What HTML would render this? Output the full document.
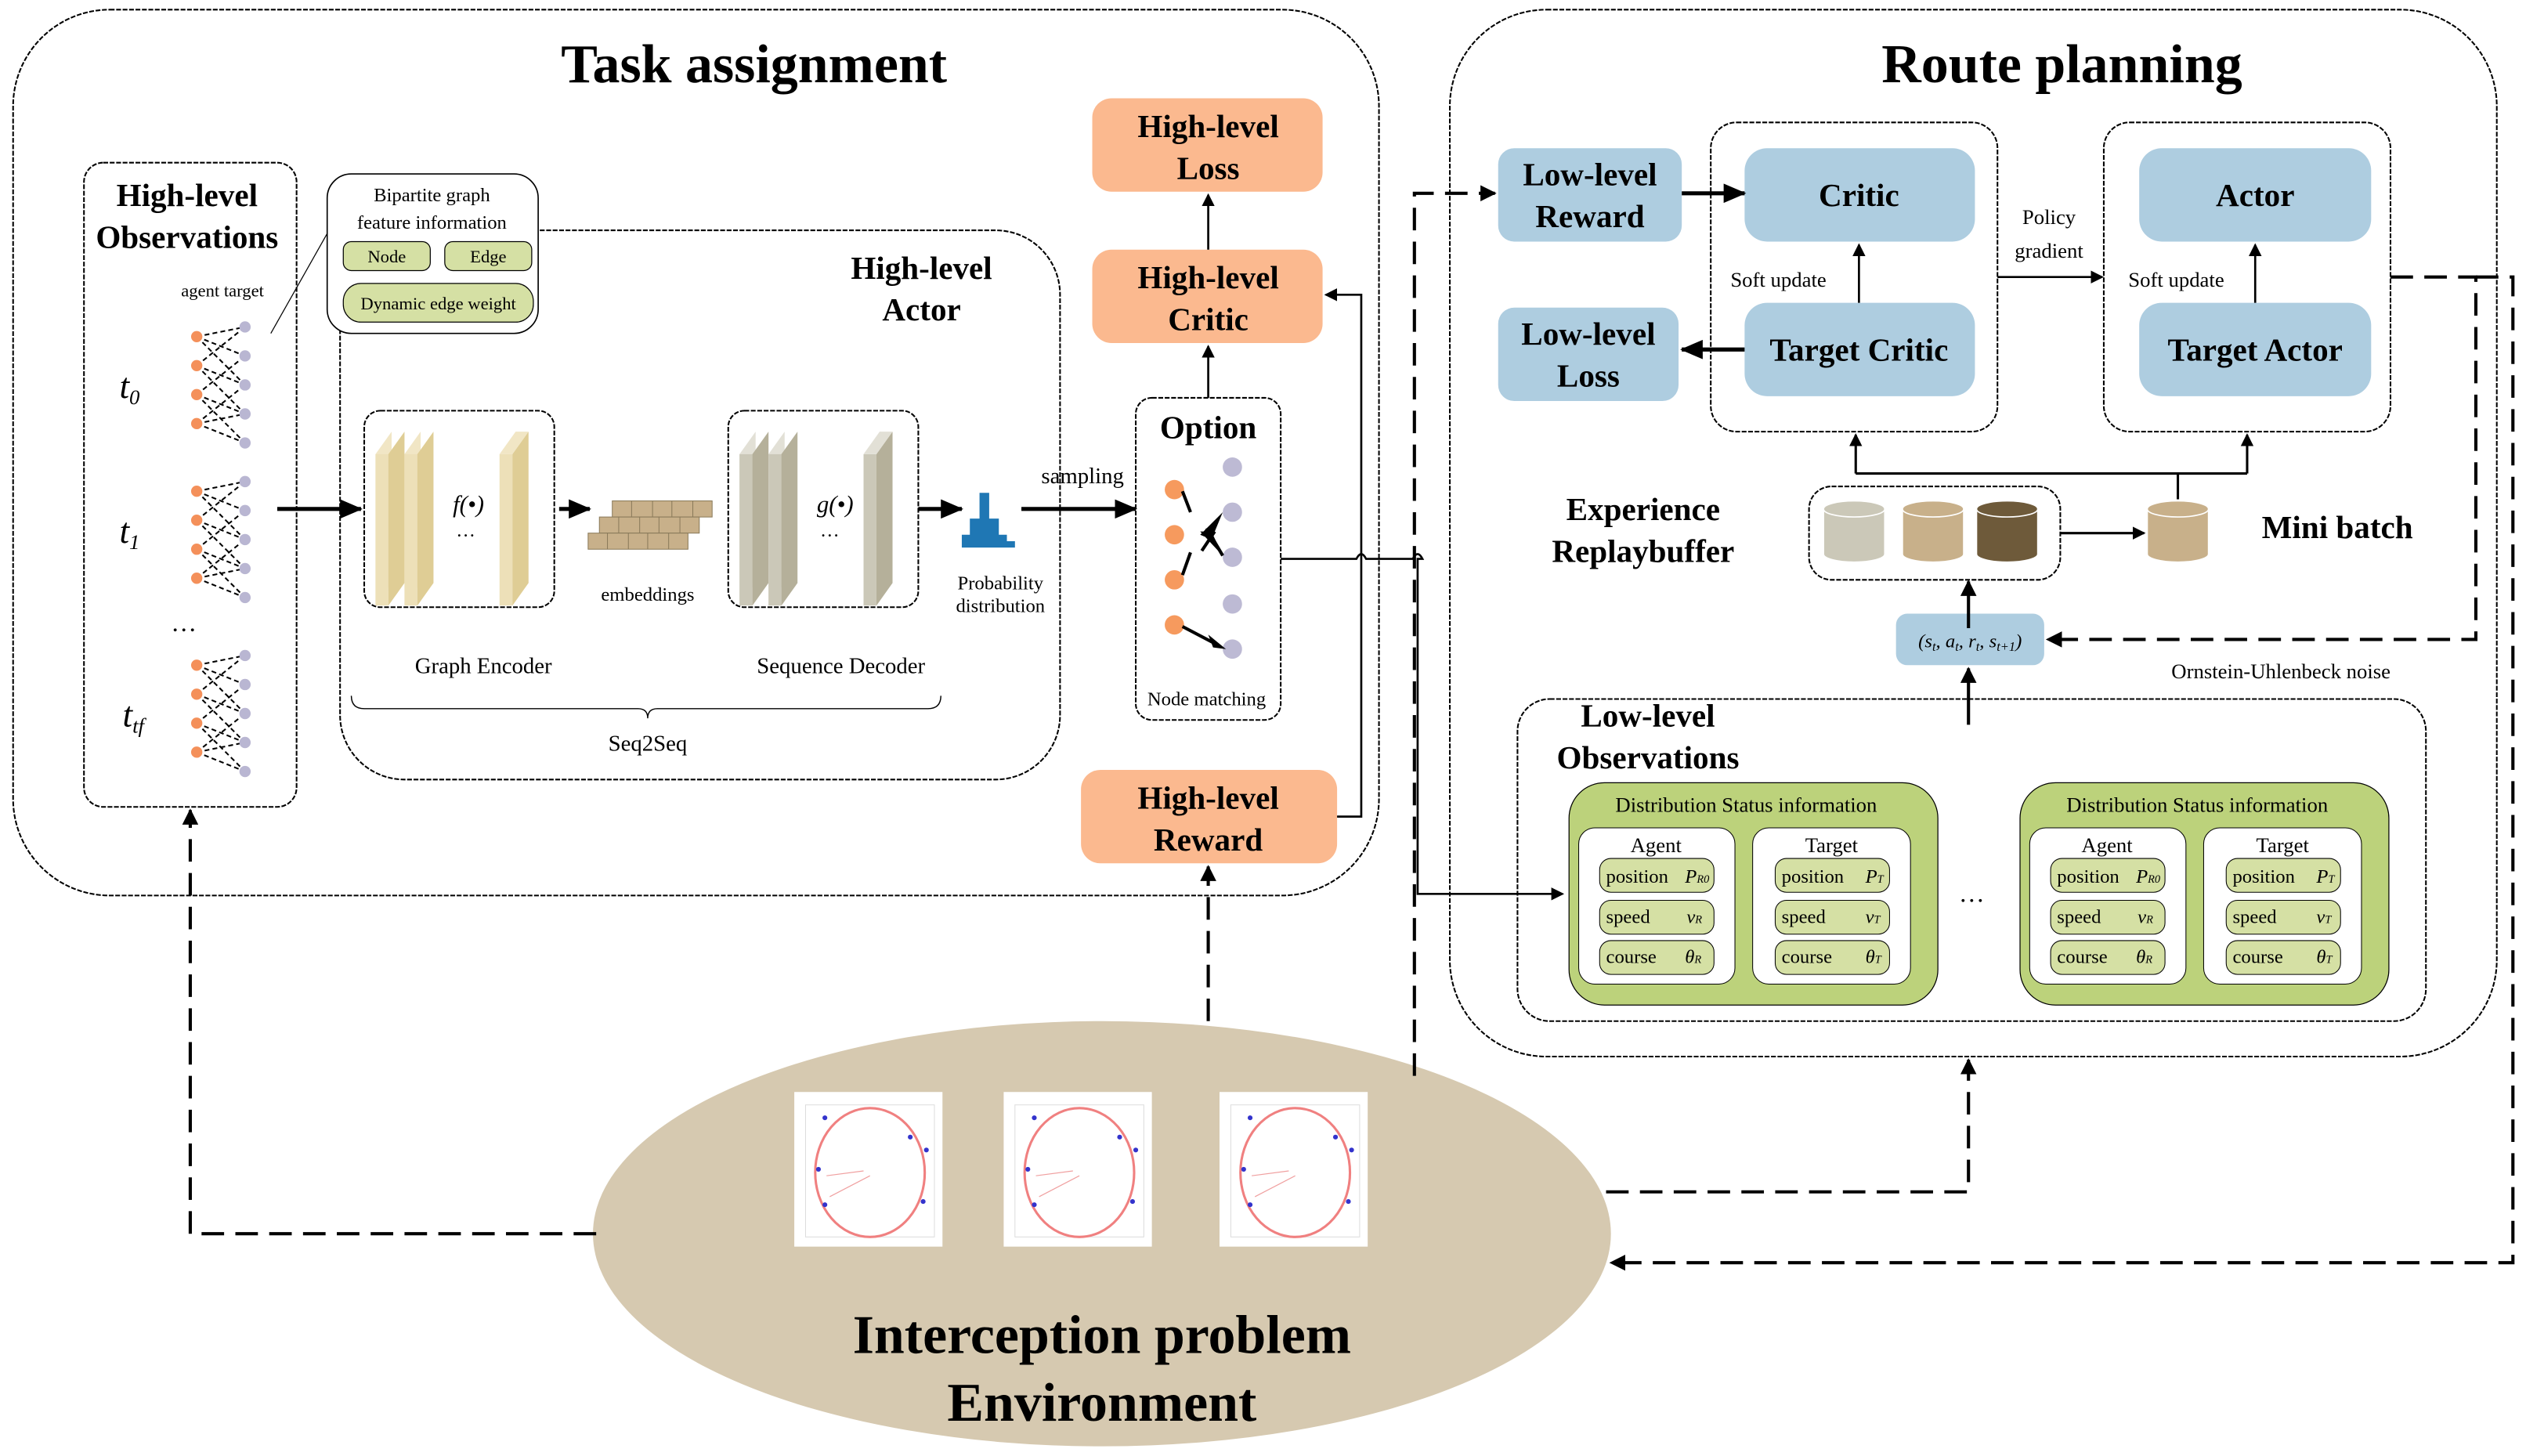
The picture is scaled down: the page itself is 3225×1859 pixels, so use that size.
<!DOCTYPE html>
<html><head><meta charset="utf-8"><style>html,body{margin:0;padding:0;background:#fff}svg{display:block}</style></head><body>
<svg width="3225" height="1859" viewBox="0 0 1568 904" xmlns="http://www.w3.org/2000/svg" font-family="Liberation Serif, serif">
<defs>
<marker id="a" markerWidth="8" markerHeight="8" refX="7" refY="4" orient="auto" markerUnits="userSpaceOnUse"><path d="M0,0 L8,4 L0,8 z" fill="#000"/></marker>
<marker id="b" markerWidth="14" markerHeight="12" refX="13" refY="6" orient="auto" markerUnits="userSpaceOnUse"><path d="M0,0 L14,6 L0,12 z" fill="#000"/></marker>
<marker id="c" markerWidth="10" markerHeight="10" refX="9" refY="5" orient="auto" markerUnits="userSpaceOnUse"><path d="M0,0 L10,5 L0,10 z" fill="#000"/></marker>
</defs>
<g fill="none" stroke="#000" stroke-width="1" stroke-dasharray="3,1">
<rect x="8" y="6" width="848" height="550" rx="60"/>
<rect x="900" y="6" width="650" height="650" rx="60"/>
<rect x="52" y="101" width="132" height="400" rx="12"/>
<rect x="211" y="143" width="447" height="341" rx="40"/>
<rect x="226" y="255" width="118" height="122" rx="10"/>
<rect x="452" y="255" width="118" height="122" rx="10"/>
<rect x="705" y="247" width="90" height="200" rx="10"/>
<rect x="1062" y="76" width="178" height="192" rx="16"/>
<rect x="1306" y="76" width="178" height="192" rx="16"/>
<rect x="1123" y="302" width="156" height="58" rx="14"/>
<rect x="942" y="434" width="564" height="200" rx="20"/>
</g>
<rect x="203" y="108" width="131" height="99" rx="15" fill="#fff" stroke="#000" stroke-width="0.8"/>
<line x1="203" y1="145" x2="168" y2="207" stroke="#000" stroke-width="0.6"/>
<g fill="#d5e0a4" stroke="#000" stroke-width="0.6">
<rect x="213" y="150" width="54" height="18" rx="5"/><rect x="276" y="150" width="54" height="18" rx="5"/><rect x="213" y="176" width="118" height="24" rx="11"/></g>
<g font-size="12" text-anchor="middle"><text x="268" y="125">Bipartite graph</text><text x="268" y="142">feature information</text>
<text x="240" y="163" font-size="11">Node</text><text x="303" y="163" font-size="11">Edge</text><text x="272" y="192" font-size="11">Dynamic edge weight</text></g>
<g font-weight="bold" text-anchor="middle">
<text x="468" y="51" font-size="34">Task assignment</text>
<text x="1280" y="51" font-size="34">Route planning</text>
<text x="116" y="128" font-size="20">High-level</text><text x="116" y="154" font-size="20">Observations</text>
<text x="572" y="173" font-size="20">High-level</text><text x="572" y="199" font-size="20">Actor</text>
<text x="750" y="272" font-size="20">Option</text>
<text x="1020" y="323" font-size="20">Experience</text><text x="1020" y="349" font-size="20">Replaybuffer</text>
<text x="1451" y="334" font-size="20">Mini batch</text>
<text x="1023" y="451" font-size="20">Low-level</text><text x="1023" y="477" font-size="20">Observations</text>
</g>
<text x="138" y="184" font-size="11" text-anchor="middle">agent  target</text>
<g font-style="italic" font-size="22"><text x="74" y="247">t<tspan font-size="13" dy="4">0</tspan></text><text x="74" y="337">t<tspan font-size="13" dy="4">1</tspan></text><text x="76" y="451">t<tspan font-size="13" dy="4">tf</tspan></text></g>
<text x="106" y="392" font-size="16">…</text>
<g id="bg">
<g stroke="#000" stroke-width="1" stroke-dasharray="3,2" fill="none">
<path d="M122,209 L152,203 M122,209 L152,221 M122,209 L152,239 M122,227 L152,203 M122,227 L152,239 M122,227 L152,257 M122,245 L152,221 M122,245 L152,257 M122,245 L152,275 M122,263 L152,239 M122,263 L152,257 M122,263 L152,275"/></g>
<g fill="#f4905a"><circle cx="122" cy="209" r="3.5"/><circle cx="122" cy="227" r="3.5"/><circle cx="122" cy="245" r="3.5"/><circle cx="122" cy="263" r="3.5"/></g>
<g fill="#b9b6d2"><circle cx="152" cy="203" r="3.5"/><circle cx="152" cy="221" r="3.5"/><circle cx="152" cy="239" r="3.5"/><circle cx="152" cy="257" r="3.5"/><circle cx="152" cy="275" r="3.5"/></g>
</g>
<use href="#bg" y="96"/><use href="#bg" y="204"/>
<g fill="#000" stroke="#000">
<line x1="172" y1="316" x2="224" y2="316" stroke-width="2.5" marker-end="url(#b)"/>
<line x1="347" y1="316" x2="366" y2="316" stroke-width="2.5" marker-end="url(#b)"/>
<line x1="570" y1="316" x2="597" y2="316" stroke-width="2.5" marker-end="url(#b)"/>
<line x1="634" y1="316" x2="705" y2="316" stroke-width="2.5" marker-end="url(#b)"/>
</g>
<g stroke="none">
<polygon points="233,282 243,268 243,362 233,376" fill="#f1e6c5"/><rect x="233" y="282" width="8" height="94" fill="#ede0b8"/><polygon points="241,282 251,268 251,362 241,376" fill="#dfcd95"/>
<polygon points="251,282 261,268 261,362 251,376" fill="#f1e6c5"/><rect x="251" y="282" width="8" height="94" fill="#ede0b8"/><polygon points="259,282 269,268 269,362 259,376" fill="#dfcd95"/>
<rect x="310" y="282" width="8" height="94" fill="#ede0b8"/><polygon points="318,282 328,268 328,362 318,376" fill="#dfcd95"/><polygon points="310,282 318,282 328,268 320,268" fill="#f1e6c5"/>
<polygon points="459,282 469,268 469,362 459,376" fill="#e2e0d6"/><rect x="459" y="282" width="8" height="94" fill="#cbc8b8"/><polygon points="467,282 477,268 477,362 467,376" fill="#b5b09a"/>
<polygon points="477,282 487,268 487,362 477,376" fill="#e2e0d6"/><rect x="477" y="282" width="8" height="94" fill="#cbc8b8"/><polygon points="485,282 495,268 495,362 485,376" fill="#b5b09a"/>
<rect x="536" y="282" width="8" height="94" fill="#cbc8b8"/><polygon points="544,282 554,268 554,362 544,376" fill="#b5b09a"/><polygon points="536,282 544,282 554,268 546,268" fill="#e2e0d6"/>
</g>
<text x="281" y="318" font-size="15" font-style="italic">f(•)</text><text x="283" y="333" font-size="12">…</text>
<text x="507" y="318" font-size="15" font-style="italic">g(•)</text><text x="509" y="333" font-size="12">…</text>
<g fill="#c8b08a" stroke="#8a7a5a" stroke-width="0.5">
<rect x="380" y="311" width="62" height="10"/><rect x="372" y="321" width="62" height="10"/><rect x="365" y="331" width="62" height="10"/></g>
<g stroke="#8a7a5a" stroke-width="0.5"><path d="M392,311v10M405,311v10M417,311v10M430,311v10M384,321v10M397,321v10M409,321v10M422,321v10M377,331v10M390,331v10M402,331v10M415,331v10"/></g>
<text x="402" y="373" font-size="12" text-anchor="middle">embeddings</text>
<path d="M597,340 L597,332 L602,332 L602,322 L608,322 L608,306 L614,306 L614,322 L620,322 L620,332 L625,332 L625,336 L630,336 L630,340 Z" fill="#1f77b4"/>
<text x="621" y="366" font-size="12" text-anchor="middle">Probability</text><text x="621" y="380" font-size="12" text-anchor="middle">distribution</text>
<text x="672" y="300" font-size="14" text-anchor="middle">sampling</text>
<g font-size="14" text-anchor="middle"><text x="300" y="418">Graph Encoder</text><text x="522" y="418">Sequence Decoder</text><text x="402" y="466">Seq2Seq</text></g>
<path d="M218,432 Q218,440 226,440 L396,440 Q402,440 402,446 Q402,440 408,440 L576,440 Q584,440 584,432" fill="none" stroke="#000" stroke-width="0.7"/>
<g fill="#f69a5e"><circle cx="729" cy="304" r="6"/><circle cx="729" cy="332" r="6"/><circle cx="729" cy="360" r="6"/><circle cx="729" cy="388" r="6"/></g>
<g fill="#bdbad4"><circle cx="765" cy="290" r="6"/><circle cx="765" cy="318" r="6"/><circle cx="765" cy="346" r="6"/><circle cx="765" cy="375" r="6"/><circle cx="765" cy="403" r="6"/></g>
<g stroke="#000" stroke-width="2" fill="none"><path d="M734,305 L739,318 M749,328 L759,345 M754,330 L746,342 M739,343 L734,357 M734,389 L755,400"/></g>
<path d="M759,318 L752,335 L745,332 Z M759,345 L745,330 L752,330 Z M761,403 L750,394 L753,402 Z" fill="#000"/>
<text x="749" y="438" font-size="12" text-anchor="middle">Node matching</text>
<g fill="#fbb98f"><rect x="678" y="61" width="143" height="58" rx="12"/><rect x="678" y="155" width="143" height="58" rx="12"/><rect x="671" y="478" width="159" height="58" rx="12"/></g>
<g font-weight="bold" font-size="20" text-anchor="middle"><text x="750" y="85">High-level</text><text x="750" y="111">Loss</text><text x="750" y="179">High-level</text><text x="750" y="205">Critic</text><text x="750" y="502">High-level</text><text x="750" y="528">Reward</text></g>
<g stroke="#000" stroke-width="1.3" fill="none">
<line x1="750" y1="155" x2="750" y2="121" marker-end="url(#a)"/>
<line x1="750" y1="247" x2="750" y2="215" marker-end="url(#a)"/>
<path d="M830,507 L845,507 L845,183 L823,183" marker-end="url(#a)"/>
<path d="M795,347 L842,347 Q845,341 848,347 L877,347 Q880,341 883,347 L880,347 L880,555 L970,555" marker-end="url(#a)"/>
</g>
<ellipse cx="684" cy="766" rx="316" ry="132" fill="#d6c9b0"/>
<g stroke="#000" stroke-width="2" fill="none" stroke-dasharray="14,7">
<path d="M370,766 L118,766 L118,503" marker-end="url(#c)"/>
<path d="M750,634 L750,538" marker-end="url(#c)"/>
<path d="M878,668 L878,120 L928,120" marker-end="url(#c)"/>
<path d="M997,740 L1222,740 L1222,658" marker-end="url(#c)"/>
<path d="M1484,172 L1537,172 L1537,397 L1271,397" marker-end="url(#c)"/>
<path d="M1537,172 L1560,172 L1560,784 L1000,784" marker-end="url(#c)"/>
</g>
<g fill="#aecde0"><rect x="930" y="92" width="114" height="58" rx="10"/><rect x="1083" y="92" width="143" height="58" rx="14"/><rect x="1083" y="188" width="143" height="58" rx="14"/><rect x="930" y="191" width="112" height="58" rx="10"/><rect x="1328" y="92" width="144" height="58" rx="14"/><rect x="1328" y="188" width="144" height="58" rx="14"/><rect x="1177" y="381" width="92" height="32" rx="7"/></g>
<g font-weight="bold" font-size="20" text-anchor="middle"><text x="987" y="115">Low-level</text><text x="987" y="141">Reward</text><text x="1154" y="128">Critic</text><text x="1154" y="224">Target Critic</text><text x="986" y="214">Low-level</text><text x="986" y="240">Loss</text><text x="1400" y="128">Actor</text><text x="1400" y="224">Target Actor</text></g>
<text x="1223" y="402" font-size="12" font-style="italic" text-anchor="middle">(s<tspan font-size="8" dy="2">t</tspan><tspan dy="-2">, a</tspan><tspan font-size="8" dy="2">t</tspan><tspan dy="-2">, r</tspan><tspan font-size="8" dy="2">t</tspan><tspan dy="-2">, s</tspan><tspan font-size="8" dy="2">t+1</tspan><tspan dy="-2">)</tspan></text>
<g font-size="13" text-anchor="middle"><text x="1104" y="178">Soft update</text><text x="1351" y="178">Soft update</text><text x="1272" y="139">Policy</text><text x="1272" y="160">gradient</text><text x="1416" y="421">Ornstein-Uhlenbeck noise</text></g>
<g stroke="#000" fill="none">
<line x1="1044" y1="120" x2="1083" y2="120" stroke-width="2.5" marker-end="url(#b)"/>
<line x1="1083" y1="217" x2="1044" y2="217" stroke-width="2.5" marker-end="url(#b)"/>
<line x1="1154" y1="188" x2="1154" y2="152" stroke-width="1.3" marker-end="url(#a)"/>
<line x1="1400" y1="188" x2="1400" y2="152" stroke-width="1.3" marker-end="url(#a)"/>
<line x1="1240" y1="172" x2="1305" y2="172" stroke-width="1.3" marker-end="url(#a)"/>
<path d="M1352,310 L1352,294 M1152,294 L1395,294" stroke-width="1.5"/>
<line x1="1152" y1="294" x2="1152" y2="270" stroke-width="1.5" marker-end="url(#a)"/>
<line x1="1395" y1="294" x2="1395" y2="270" stroke-width="1.5" marker-end="url(#a)"/>
<line x1="1279" y1="331" x2="1331" y2="331" stroke-width="1.5" marker-end="url(#a)"/>
<line x1="1222" y1="390" x2="1222" y2="361" stroke-width="2" marker-end="url(#c)"/>
<line x1="1222" y1="450" x2="1222" y2="415" stroke-width="2" marker-end="url(#c)"/>
</g>
<g stroke="#fff" stroke-width="0.8">
<path d="M1132,316 v28 a19,5 0 0 0 38,0 v-28" fill="#cbc8b8"/><ellipse cx="1151" cy="316" rx="19" ry="5" fill="#cbc8b8"/>
<path d="M1181,316 v28 a19,5 0 0 0 38,0 v-28" fill="#c8b08a"/><ellipse cx="1200" cy="316" rx="19" ry="5" fill="#c8b08a"/>
<path d="M1227,316 v28 a19,5 0 0 0 38,0 v-28" fill="#6e5a3a"/><ellipse cx="1246" cy="316" rx="19" ry="5" fill="#6e5a3a"/>
<path d="M1333,316 v28 a19,5 0 0 0 38,0 v-28" fill="#c8b08a"/><ellipse cx="1352" cy="316" rx="19" ry="5" fill="#c8b08a"/>
</g>
<g id="gb">
<rect x="974" y="486" width="229" height="138" rx="22" fill="#bcd27b" stroke="#000" stroke-width="0.6"/>
<text x="1084" y="504" font-size="13" text-anchor="middle">Distribution Status information</text>
<rect x="980" y="514" width="97" height="97" rx="10" fill="#fff" stroke="#000" stroke-width="0.5"/>
<rect x="1088" y="514" width="98" height="97" rx="10" fill="#fff" stroke="#000" stroke-width="0.5"/>
<text x="1028" y="529" font-size="13" text-anchor="middle">Agent</text><text x="1137" y="529" font-size="13" text-anchor="middle">Target</text>
<g fill="#d5e0a4" stroke="#000" stroke-width="0.5">
<rect x="993" y="533" width="71" height="21" rx="7"/><rect x="993" y="559" width="71" height="21" rx="7"/><rect x="993" y="584" width="71" height="21" rx="7"/>
<rect x="1102" y="533" width="71" height="21" rx="7"/><rect x="1102" y="559" width="71" height="21" rx="7"/><rect x="1102" y="584" width="71" height="21" rx="7"/></g>
<g font-size="12"><text x="997" y="548">position</text><text x="997" y="573">speed</text><text x="997" y="598">course</text>
<text x="1106" y="548">position</text><text x="1106" y="573">speed</text><text x="1106" y="598">course</text></g>
<g font-size="12" font-style="italic"><text x="1046" y="548">P<tspan font-size="7">R0</tspan></text><text x="1047" y="573">v<tspan font-size="7">R</tspan></text><text x="1046" y="598">θ<tspan font-size="7">R</tspan></text>
<text x="1158" y="548">P<tspan font-size="7">T</tspan></text><text x="1158" y="573">v<tspan font-size="7">T</tspan></text><text x="1158" y="598">θ<tspan font-size="7">T</tspan></text></g>
</g>
<use href="#gb" x="280"/>
<text x="1216" y="560" font-size="16">…</text>
<g id="pl">
<rect x="493" y="678" width="92" height="96" fill="#fff"/>
<rect x="500" y="686" width="80" height="82" fill="none" stroke="#ddd" stroke-width="0.5"/>
<ellipse cx="540" cy="728" rx="34" ry="40" fill="none" stroke="#f08080" stroke-width="1.5"/>
<g fill="#3333cc"><circle cx="512" cy="694" r="1.5"/><circle cx="565" cy="706" r="1.5"/><circle cx="575" cy="714" r="1.5"/><circle cx="508" cy="726" r="1.5"/><circle cx="512" cy="748" r="1.5"/><circle cx="573" cy="746" r="1.5"/></g>
<g stroke="#f0a0a0" stroke-width="0.6"><line x1="513" y1="730" x2="536" y2="727"/><line x1="515" y1="743" x2="540" y2="730"/></g>
</g>
<use href="#pl" x="130"/><use href="#pl" x="264"/>
<g font-weight="bold" text-anchor="middle" font-size="34"><text x="684" y="840">Interception problem</text><text x="684" y="882">Environment</text></g>
</svg>
</body></html>
